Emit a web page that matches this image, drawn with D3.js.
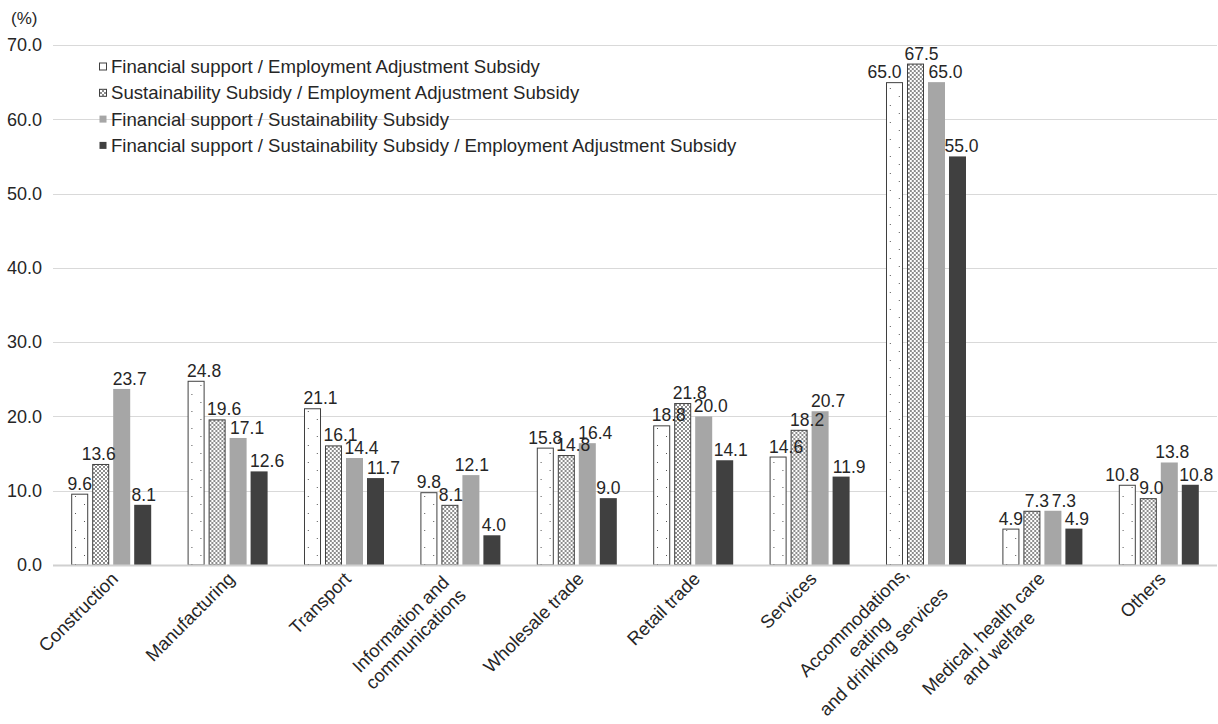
<!DOCTYPE html>
<html>
<head>
<meta charset="utf-8">
<script src="https://cdn.jsdelivr.net/npm/d3@7"></script>
<style>
  html, body { margin: 0; padding: 0; background: #fff; }
  text { font-family: "Liberation Sans", Arial, sans-serif; fill: #262626; }
</style>
</head>
<body>
<svg id="chart" width="1218" height="724"></svg>
<script>
const categories = [
  ["Construction"],
  ["Manufacturing"],
  ["Transport"],
  ["Information and", "communications"],
  ["Wholesale trade"],
  ["Retail trade"],
  ["Services"],
  ["Accommodations,", "eating", "and drinking services"],
  ["Medical, health care", "and welfare"],
  ["Others"]
];
const seriesNames = [
  "Financial support / Employment Adjustment Subsidy",
  "Sustainability Subsidy / Employment Adjustment Subsidy",
  "Financial support / Sustainability Subsidy",
  "Financial support / Sustainability Subsidy / Employment Adjustment Subsidy"
];
const finEmp      = [9.6, 24.8, 21.1, 9.8, 15.8, 18.8, 14.6, 65.0, 4.9, 10.8];
const sustEmp     = [13.6, 19.6, 16.1, 8.1, 14.8, 21.8, 18.2, 67.5, 7.3, 9.0];
const finSust     = [23.7, 17.1, 14.4, 12.1, 16.4, 20.0, 20.7, 65.0, 7.3, 13.8];
const finSustEmp  = [8.1, 12.6, 11.7, 4.0, 9.0, 14.1, 11.9, 55.0, 4.9, 10.8];
const yTicks = [0, 10, 20, 30, 40, 50, 60, 70];

const seriesValues = [finEmp, sustEmp, finSust, finSustEmp];
const fills = ["url(#dots)", "url(#checker)", "#a6a6a6", "#404040"];
const strokes = ["#404040", "#404040", "none", "none"];

// layout: horizontal nudges of the value labels (px), per category, per series
const labelNudge = [
  [0, -2, 8, 1], [8, 7, 9, 8], [8, 7, 7, 8], [0, 1, 1, 2], [0, 7, 8, 0],
  [7, 7, 7, 6], [8, 8, 8, 8], [-10, 6, 9, 4], [0, 5, 11, 3], [-5, 3, 3, 6]
];

const svg = d3.select("#chart");
const mLeft = 53, mRight = 1217, mTop = 45, mBottom = 565;

// patterns
const defs = svg.append("defs");
const pd = defs.append("pattern").attr("id", "dots").attr("patternUnits", "userSpaceOnUse")
  .attr("width", 18).attr("height", 17);
pd.append("rect").attr("width", 18).attr("height", 17).attr("fill", "#fff");
pd.append("rect").attr("x", 4).attr("y", 3).attr("width", 1).attr("height", 1).attr("fill", "#555");
pd.append("rect").attr("x", 13).attr("y", 11).attr("width", 1).attr("height", 1).attr("fill", "#555");
const pc = defs.append("pattern").attr("id", "checker").attr("patternUnits", "userSpaceOnUse")
  .attr("width", 4).attr("height", 4);
pc.append("rect").attr("width", 4).attr("height", 4).attr("fill", "#fff");
pc.append("rect").attr("x", 0).attr("y", 0).attr("width", 2).attr("height", 2).attr("fill", "#8c8c8c");
pc.append("rect").attr("x", 2).attr("y", 2).attr("width", 2).attr("height", 2).attr("fill", "#8c8c8c");

const x0 = d3.scaleBand().domain(d3.range(categories.length)).range([mLeft, mRight]).paddingInner(0).paddingOuter(0);
const bw = x0.bandwidth();
const x1 = d3.scaleBand().domain(d3.range(4)).range([18.2, 18.2 + 80]).paddingInner(0.19).paddingOuter(0);
const y = d3.scaleLinear().domain([0, 70]).range([mBottom, mTop]);

// gridlines
svg.append("g").selectAll("line").data(yTicks.filter(d => d > 0)).join("line")
  .attr("x1", mLeft).attr("x2", mRight)
  .attr("y1", d => Math.round(y(d)) + 0.5).attr("y2", d => Math.round(y(d)) + 0.5)
  .attr("stroke", "#d9d9d9").attr("stroke-width", 1);

// y axis labels
svg.append("g").selectAll("text").data(yTicks).join("text")
  .attr("x", 42).attr("y", d => y(d)).attr("dy", "0.35em")
  .attr("text-anchor", "end").attr("font-size", 18)
  .text(d => d.toFixed(1));
svg.append("text").attr("x", 11).attr("y", 24).attr("font-size", 17).text("(%)");

// bars
const groups = svg.append("g").selectAll("g").data(categories).join("g")
  .attr("transform", (d, i) => `translate(${x0(i)},0)`);
groups.each(function (c, ci) {
  const g = d3.select(this);
  seriesValues.forEach((vals, si) => {
    const v = vals[ci];
    const bx = x1(si), bwid = x1.bandwidth();
    const s = strokes[si] !== "none";
    g.append("rect")
      .attr("x", bx + (s ? 0.5 : 0))
      .attr("y", y(v) + (s ? 0.5 : 0))
      .attr("width", bwid - (s ? 1 : 0))
      .attr("height", y(0) - y(v) - (s ? 0.5 : 0))
      .attr("fill", fills[si]).attr("stroke", strokes[si]).attr("stroke-width", 1);
  });
});
// value labels (drawn after all bars)
groups.each(function (c, ci) {
  const g = d3.select(this);
  seriesValues.forEach((vals, si) => {
    const v = vals[ci];
    g.append("text")
      .attr("x", x1(si) + x1.bandwidth() / 2 + labelNudge[ci][si]).attr("y", y(v) - 4)
      .attr("text-anchor", "middle").attr("font-size", 17.5)
      .text(v.toFixed(1));
  });
});

// baseline
svg.append("line").attr("x1", mLeft).attr("x2", mRight).attr("y1", mBottom + 0.5).attr("y2", mBottom + 0.5)
  .attr("stroke", "#d0d0d0").attr("stroke-width", 2);

// x labels
const lh = 21;
const labelShift = [[0,0],[0,0],[0,0],[-9,9],[0,0],[0,0],[0,0],[0,0],[3,7],[0,0]];
categories.forEach((lines, i) => {
  const cx = x0(i) + bw / 2;
  const n = lines.length;
  const g = svg.append("g").attr("transform",
    `translate(${cx + 1 + labelShift[i][0]},${mBottom + 8 + labelShift[i][1]}) rotate(-45)`);
  const t = g.append("text").attr("font-size", 18.4).attr("text-anchor", "middle");
  lines.forEach((ln) => { t.append("tspan").text(ln); });
  let maxW = 0;
  t.selectAll("tspan").each(function () { maxW = Math.max(maxW, this.getComputedTextLength()); });
  const yOff = 10 - (n - 1) * lh / 2;
  t.selectAll("tspan").attr("x", -maxW / 2).attr("y", (d, k) => yOff + k * lh);
});

// legend
const lg = svg.append("g");
seriesNames.forEach((name, i) => {
  const ly = 66.5 + i * 26.3;
  lg.append("rect").attr("x", 99.5).attr("y", ly - 3.5).attr("width", 7).attr("height", 7)
    .attr("fill", fills[i]).attr("stroke", strokes[i] === "none" ? "none" : "#404040").attr("stroke-width", 1);
  lg.append("text").attr("x", 111).attr("y", ly).attr("dy", "0.35em").attr("font-size", 18.6).text(name);
});
</script>
</body>
</html>
